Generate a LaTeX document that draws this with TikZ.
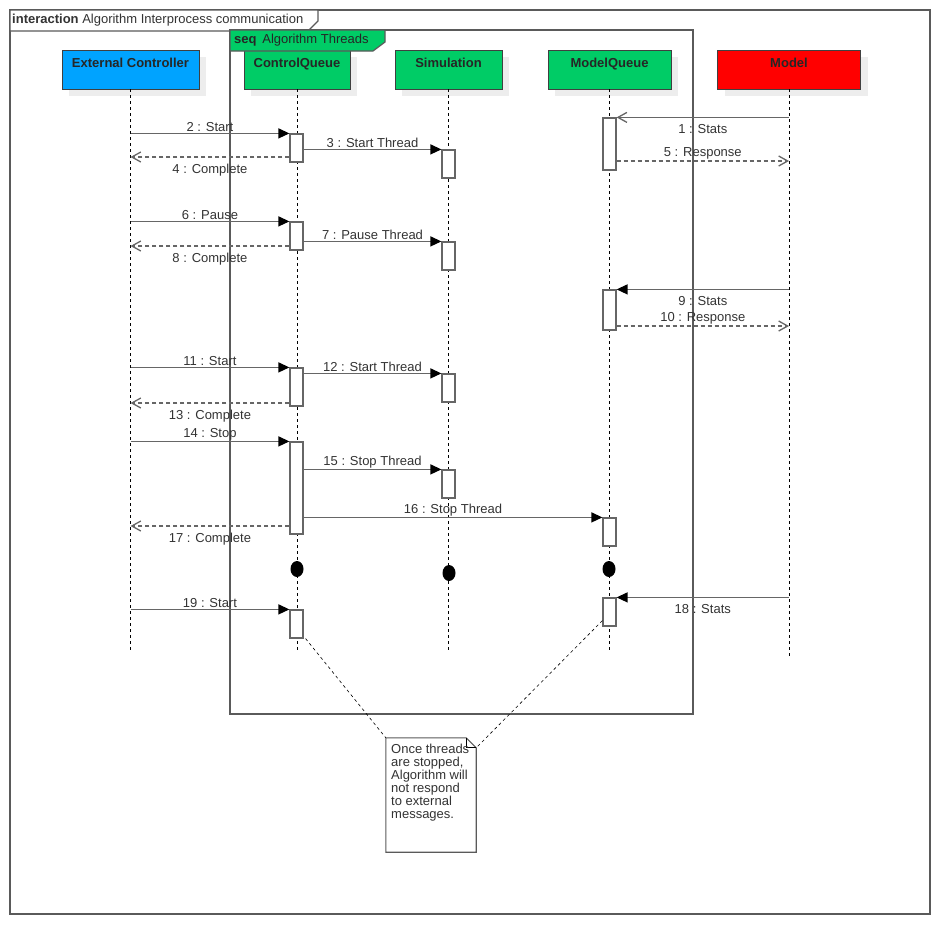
\documentclass[tikz,border=0pt]{standalone}
\usepackage{fontspec}
\setmainfont{Liberation Sans}
\usetikzlibrary{arrows.meta,shadows,shapes.geometric,calc}
\definecolor{extblue}{HTML}{00A3FF}
\definecolor{qgreen}{HTML}{00CC66}
\definecolor{mred}{HTML}{FF0000}
\definecolor{lgray}{HTML}{666666}
\definecolor{fgray}{HTML}{5A5A5A}
\definecolor{tgray}{HTML}{333333}
\begin{document}
\begin{tikzpicture}[x=1pt,y=-1pt,
  every node/.style={font=\fontsize{13}{14}\selectfont, text=tgray},
  frame/.style={draw=fgray, line width=1.2pt},
  head/.style={draw=black!75, line width=0.9pt, minimum height=39pt, inner sep=0pt,
    drop shadow={shadow xshift=7pt, shadow yshift=-7pt, fill=black!7, opacity=1}},
  headtxt/.style={anchor=north, yshift=-5pt, font=\fontsize{13}{15}\selectfont\bfseries, text=black!85},
  life/.style={draw=black, line width=0.8pt, dash pattern=on 3pt off 3pt},
  act/.style={draw=lgray, fill=white, line width=1.2pt, minimum width=13pt, inner sep=0pt},
  msg/.style={draw=lgray, line width=1.3pt, -{Triangle[length=11pt,width=10pt,color=black]}},
  omsg/.style={draw=lgray, line width=1.3pt, -{Straight Barb[length=9pt,width=10pt]}},
  rmsg/.style={draw=lgray, line width=1.3pt, dash pattern=on 4pt off 3pt, -{Straight Barb[length=9pt,width=10pt]}},
  up/.style={midway, above, inner sep=1pt},
  dn/.style={midway, below, inner sep=6pt},
  destroy/.style={shape=ellipse, fill=black, minimum width=13pt, minimum height=16pt, inner sep=0pt},
  notelink/.style={draw=black, line width=0.6pt, dash pattern=on 3pt off 3pt}
]
\useasboundingbox (0,0) rectangle (940,924);
% outer frame
\draw[frame] (10,10) rectangle (930,914);
\draw[frame, fill=white] (10,10) -- (318,10) -- (318,21) -- (308,31) -- (10,31) -- cycle;
\node[anchor=west, inner sep=0pt] (ttl) at (12,20.5) {\textbf{interaction} Algorithm Interprocess communication};

% lifeline heads
\node[head, fill=extblue, minimum width=137pt, label={[headtxt]north:External Controller}] (ext) at (130.5,69.5) {};
\node[head, fill=qgreen, minimum width=106pt, label={[headtxt]north:ControlQueue}] (cq) at (297,69.5) {};
\node[head, fill=qgreen, minimum width=107pt, label={[headtxt]north:Simulation}] (sim) at (448.5,69.5) {};
\node[head, fill=qgreen, minimum width=123pt, label={[headtxt]north:ModelQueue}] (mq) at (609.5,69.5) {};
\node[head, fill=mred, minimum width=143pt, label={[headtxt]north:Model}] (mdl) at (789,69.5) {};

% seq frame
\draw[frame] (230,30) rectangle (693,714);
\draw[frame, fill=qgreen] (230,30) -- (385,30) -- (385,42) -- (373,51) -- (230,51) -- cycle;
\node[anchor=west, inner sep=0pt, text=black!85] (seqt) at (234,40.5) {\textbf{seq}\, Algorithm Threads};

% lifeline ends
\coordinate (extE) at (130.5,651);
\coordinate (cqE) at (297,651);
\coordinate (simE) at (448.5,650);
\coordinate (mqE) at (609.5,650);
\coordinate (mdlE) at (789,656);
\draw[life] (ext.south) -- (extE);
\draw[life] (cq.south) -- (cqE);
\draw[life] (sim.south) -- (simE);
\draw[life] (mq.south) -- (mqE);
\draw[life] (mdl.south) -- (mdlE);

% activations
\node[act, minimum height=28pt] (cq1) at (296.5,148) {};
\node[act, minimum height=28pt] (cq2) at (296.5,236) {};
\node[act, minimum height=38pt] (cq3) at (296.5,387) {};
\node[act, minimum height=92pt] (cq4) at (296.5,488) {};
\node[act, minimum height=28pt] (cq5) at (296.5,624) {};
\node[act, minimum height=28pt] (sim1) at (448.5,164) {};
\node[act, minimum height=28pt] (sim2) at (448.5,256) {};
\node[act, minimum height=28pt] (sim3) at (448.5,388) {};
\node[act, minimum height=28pt] (sim4) at (448.5,484) {};
\node[act, minimum height=52pt] (mq1) at (609.5,144) {};
\node[act, minimum height=40pt] (mq2) at (609.5,310) {};
\node[act, minimum height=28pt] (mq3) at (609.5,532) {};
\node[act, minimum height=28pt] (mq4) at (609.5,612) {};

% messages
\draw[omsg] (mdl.south |- mq1.north) -- (mq1.north east) node[dn]{1 : Stats};
\draw[msg] (ext.south |- cq1.north) -- (cq1.north west) node[up]{2 : Start};
\draw[msg] (cq1.east |- sim1.north) -- (sim1.north west) node[up]{3 : Start Thread};
\draw[rmsg] (cq1.west |- 0,157) -- (ext.south |- 0,157) node[dn]{4 : Complete};
\draw[rmsg] (mq1.east |- 0,161) -- (mdl.south |- 0,161) node[up]{5 : Response};
\draw[msg] (ext.south |- cq2.north) -- (cq2.north west) node[up]{6 : Pause};
\draw[msg] (cq2.east |- sim2.north) -- (sim2.north west) node[up]{7 : Pause Thread};
\draw[rmsg] (cq2.west |- 0,246) -- (ext.south |- 0,246) node[dn]{8 : Complete};
\draw[msg] (mdl.south |- mq2.north) -- (mq2.north east) node[dn]{9 : Stats};
\draw[rmsg] (mq2.east |- 0,326) -- (mdl.south |- 0,326) node[up]{10 : Response};
\draw[msg] (ext.south |- cq3.north) -- (cq3.north west) node[up]{11 : Start};
\draw[msg] (cq3.east |- sim3.north) -- (sim3.north west) node[up]{12 : Start Thread};
\draw[rmsg] (cq3.west |- 0,403) -- (ext.south |- 0,403) node[dn]{13 : Complete};
\draw[msg] (ext.south |- cq4.north) -- (cq4.north west) node[up]{14 : Stop};
\draw[msg] (cq4.east |- sim4.north) -- (sim4.north west) node[up]{15 : Stop Thread};
\draw[msg] (cq4.east |- mq3.north) -- (mq3.north west) node[up]{16 : Stop Thread};
\draw[rmsg] (cq4.west |- 0,526) -- (ext.south |- 0,526) node[dn]{17 : Complete};
\draw[msg] (mdl.south |- mq4.north) -- (mq4.north east) node[dn]{18 : Stats};
\draw[msg] (ext.south |- cq5.north) -- (cq5.north west) node[up]{19 : Start};

% destruction markers
\node[destroy] (d1) at (297,569) {};
\node[destroy] (d2) at (449,573) {};
\node[destroy] (d3) at (609,569) {};

% note
\node[minimum width=90pt, minimum height=114pt, inner sep=0pt] (note) at (431,795) {};
\draw[draw=fgray, line width=1.1pt, fill=white] (note.north west) -- ([xshift=-10pt]note.north east) -- ([yshift=-10pt]note.north east) -- (note.south east) -- (note.south west) -- cycle;
\draw[draw=black, line width=0.7pt] ([xshift=-10pt]note.north east) -- ([xshift=-10pt,yshift=-10pt]note.north east) -- ([yshift=-10pt]note.north east);
\node[anchor=north west, align=left, inner sep=0pt, text=tgray, font=\fontsize{13}{13}\selectfont] (notetxt) at (391,744) {Once threads\\are stopped,\\Algorithm will\\not respond\\to external\\messages.};
\draw[notelink] ([xshift=2pt]cq5.south east) -- (note.north west);
\draw[notelink] ([yshift=6pt]mq4.south west) -- ([yshift=-10pt]note.north east);
\end{tikzpicture}
\end{document}
